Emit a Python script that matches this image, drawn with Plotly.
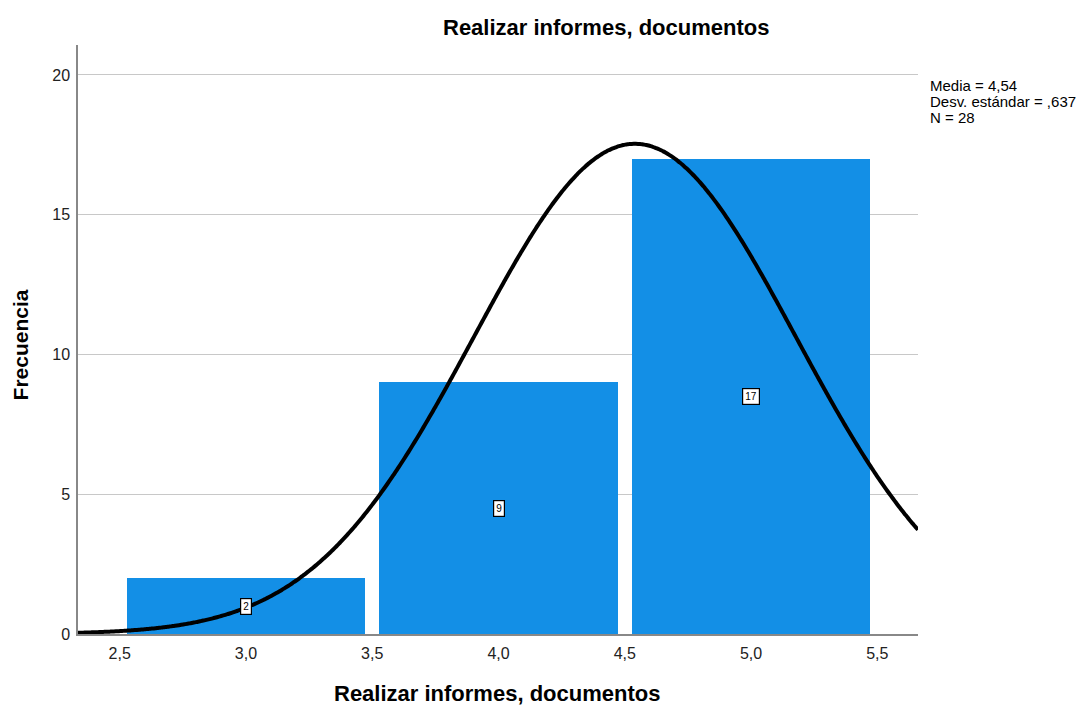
import numpy as np
import plotly.graph_objects as go

title = "Realizar informes, documentos"
categories = [3.0, 4.0, 5.0]
counts = [2, 9, 17]
mean, sd, n = 4.54, 0.637, 28
bin_width = 1.0
x_ticks = [2.5, 3.0, 3.5, 4.0, 4.5, 5.0, 5.5]
x_tick_labels = ["2,5", "3,0", "3,5", "4,0", "4,5", "5,0", "5,5"]
y_ticks = [0, 5, 10, 15, 20]
stats_lines = ["Media = 4,54", "Desv. estándar = ,637", "N = 28"]

font = "Liberation Sans, Arial, sans-serif"
bar_color = "#138fe6"

fig = go.Figure()
fig.add_trace(go.Bar(x=categories, y=counts, width=0.943, marker=dict(color=bar_color, line=dict(width=0)),
                     hoverinfo="skip"))

xr = [2.335, 5.661]
xs = np.linspace(xr[0], xr[1], 400)
ys = n * bin_width / (sd * np.sqrt(2 * np.pi)) * np.exp(-0.5 * ((xs - mean) / sd) ** 2)
fig.add_trace(go.Scatter(x=xs, y=ys, mode="lines", line=dict(color="black", width=4, shape="spline"),
                         hoverinfo="skip"))

for c, v in zip(categories, counts):
    fig.add_annotation(x=c, y=v / 2, text=str(v), showarrow=False, bgcolor="white",
                       bordercolor="black", borderwidth=1.2, borderpad=2,
                       font=dict(family=font, size=10, color="black"))

fig.add_annotation(xref="paper", yref="paper", x=0.629, y=1.0, yshift=18, text="<b>" + title + "</b>",
                   showarrow=False, font=dict(family=font, size=22, color="black"),
                   xanchor="center", yanchor="middle")
fig.add_annotation(xref="paper", yref="paper", x=0.499, y=0.0, yshift=-59, text="<b>" + title + "</b>",
                   showarrow=False, font=dict(family=font, size=22, color="black"),
                   xanchor="center", yanchor="middle")
fig.add_annotation(xref="paper", yref="paper", x=0.0, xshift=-58, y=0.49, text="<b>Frecuencia</b>",
                   textangle=-90, showarrow=False, font=dict(family=font, size=21, color="black"),
                   xanchor="center", yanchor="middle")
for i, line in enumerate(stats_lines):
    fig.add_annotation(xref="paper", yref="paper", x=1.0, xshift=10, y=0.932, yshift=-16 * i, text=line,
                       align="left", showarrow=False, font=dict(family=font, size=15, color="black"),
                       xanchor="left", yanchor="middle")

fig.update_layout(
    width=1080, height=697,
    margin=dict(l=70, r=170, t=37, b=71),
    plot_bgcolor="white", paper_bgcolor="white",
    showlegend=False, bargap=0,
    font=dict(family=font, size=16, color="#222222"),
    xaxis=dict(range=xr, tickvals=x_ticks, ticktext=x_tick_labels, showgrid=False, zeroline=False,
               showline=True, linecolor="#888888", linewidth=1.5, ticks="", ticklen=0,
               ticklabelstandoff=4),
    yaxis=dict(range=[0, 21.07], tickvals=y_ticks, showgrid=True, gridcolor="#c8c8c8", gridwidth=1,
               zeroline=False, showline=True, linecolor="#888888", linewidth=1.5, ticks="",
               ticklabelstandoff=3),
)

fig.write_html("out.html")
